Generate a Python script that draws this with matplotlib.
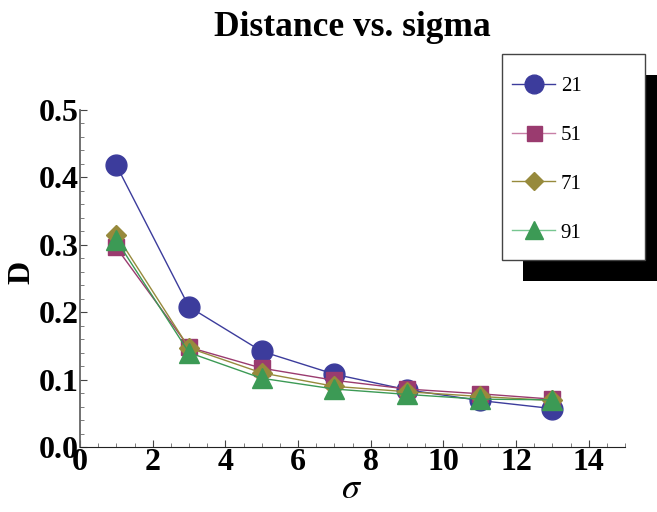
import matplotlib
matplotlib.use("Agg")
import matplotlib.pyplot as plt
from matplotlib.patches import Rectangle
from matplotlib.ticker import MultipleLocator
from matplotlib.lines import Line2D

sigma = [1, 3, 5, 7, 9, 11, 13]
d21 = [0.418, 0.208, 0.142, 0.108, 0.085, 0.069, 0.057]
d51 = [0.296, 0.148, 0.117, 0.099, 0.086, 0.079, 0.071]
d71 = [0.315, 0.147, 0.110, 0.090, 0.082, 0.075, 0.069]
d91 = [0.307, 0.140, 0.102, 0.086, 0.078, 0.071, 0.070]
labels = ["21", "51", "71", "91"]
xtick_vals = [0, 2, 4, 6, 8, 10, 12, 14]
ytick_vals = [0.0, 0.1, 0.2, 0.3, 0.4, 0.5]

plt.rcParams['font.family'] = ['Liberation Serif', 'DejaVu Serif']
plt.rcParams['mathtext.fontset'] = 'stix'

fig = plt.figure(figsize=(6.57, 5.12), dpi=100)
ax = fig.add_axes([80/657, 1-447/512, (625-80)/657, (447-110)/512])

series = [
    (d21, 'o', '#3c3c9c', '#3c3c9c', 15, labels[0]),
    (d51, 's', '#9a3b6f', '#c77fa6', 12, labels[1]),
    (d71, 'D', '#978a3c', '#978a3c', 10, labels[2]),
    (d91, '^', '#3c9a55', '#77c690', 14, labels[3]),
]
for vals, m, mc, lc, ms, lab in series:
    h, = ax.plot(sigma, vals, color=mc, lw=1.0, marker=m, ms=ms,
                 markerfacecolor=mc, markeredgecolor=mc, label=lab)
    h.set_clip_on(False)

ax.set_xlim(0, 15)
ax.set_ylim(0, 0.5)
ax.xaxis.set_minor_locator(MultipleLocator(0.5))
ax.yaxis.set_minor_locator(MultipleLocator(0.02))
ax.set_xticks(xtick_vals)
ax.set_xticklabels([str(v) for v in xtick_vals])
ax.set_yticks(ytick_vals)
ax.set_yticklabels([f"{v:.1f}" for v in ytick_vals])
for s in ['top', 'right']:
    ax.spines[s].set_visible(False)
ax.spines['left'].set_color('#666666')
ax.spines['left'].set_linewidth(1.3)
ax.spines['bottom'].set_color('#222222')
ax.tick_params(which='major', direction='in', length=5, width=0.8, colors='#444444',
               labelsize=23, labelcolor='black', pad=1)
ax.tick_params(which='minor', direction='in', length=3, width=0.6, colors='#666666')
for t in ax.get_xticklabels() + ax.get_yticklabels():
    t.set_fontweight('bold')

fig.text(352/657, 1-27/512, "Distance vs. sigma", ha='center', va='center',
         fontsize=25.5, fontweight='bold')
fig.text(352/657, 1-490/512, r"$\sigma$", ha='center', va='center', fontsize=26)
fig.text(22/657, 1-272/512, "D", ha='center', va='center', rotation=90,
         fontsize=23, fontweight='bold')

# legend box with shadow
fig.patches.append(Rectangle((523/657, 1-281/512), (657-523)/657, (281-75)/512,
                             transform=fig.transFigure, facecolor='black',
                             edgecolor='none', zorder=5))
fig.patches.append(Rectangle((502/657, 1-260/512), (645-502)/657, (260-54)/512,
                             transform=fig.transFigure, facecolor='white',
                             edgecolor='#444444', lw=1.0, zorder=6))

leg_handles = []
for vals, m, mc, lc, ms, lab in series:
    leg_handles.append(Line2D([0], [0], color=lc, lw=1.0, marker=m, ms=ms*0.9,
                              markerfacecolor=mc, markeredgecolor=mc))
leg = fig.legend(leg_handles, labels, loc='upper left',
                 bbox_to_anchor=(495/657, 1-60/512), bbox_transform=fig.transFigure,
                 frameon=False, fontsize=15, handlelength=2.1, handletextpad=0.25,
                 labelspacing=1.4, borderpad=0.3)
leg.set_zorder(7)

fig.savefig("out.png", dpi=100)
